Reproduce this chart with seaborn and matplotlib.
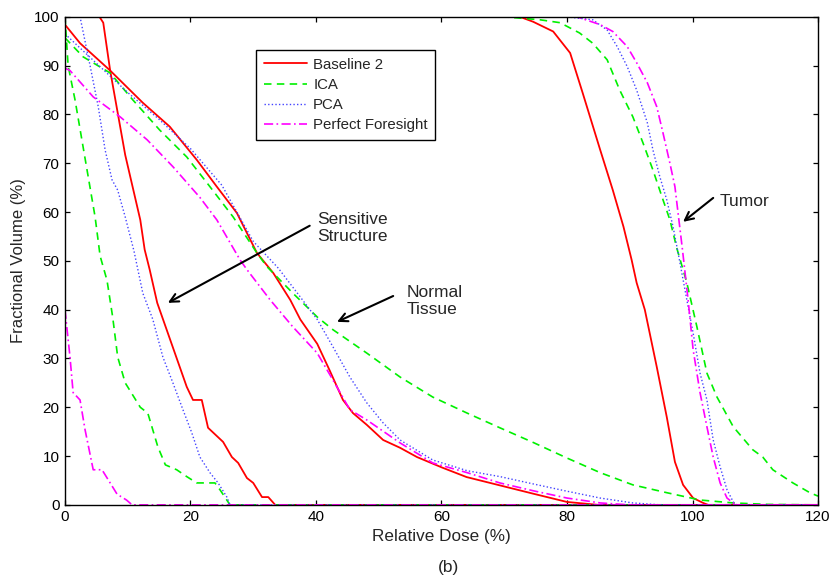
import numpy as np
import pandas as pd
import matplotlib
matplotlib.use("Agg")
import matplotlib.pyplot as plt
from matplotlib.lines import Line2D
import seaborn as sns

# ---- dose-volume histogram data (relative dose %, fractional volume %) ----
methods = ["Baseline 2", "ICA", "PCA", "Perfect Foresight"]

# Sensitive structure
sens_base_dose = [0, 5.5, 6.1, 7.2, 9.6, 12, 12.7, 13.5, 14.7, 19.4, 20.4, 21.8, 22.8, 25.2, 26.6, 27.6, 29, 30, 31.4, 32.4, 33.5, 120]
sens_base_vol = [100, 100, 98.8, 89, 71.7, 58.4, 52.3, 48.2, 41.4, 24.2, 21.5, 21.5, 15.8, 12.9, 9.8, 8.6, 5.5, 4.5, 1.6, 1.6, 0, 0]
sens_ica_dose = [0, 0.5, 1.6, 3.2, 4.8, 5.6, 6.7, 7.6, 8.4, 9.6, 12, 13.2, 14.8, 16, 17.8, 19.4, 21, 23.9, 24.7, 26.3, 120]
sens_ica_vol = [100, 90, 83, 71, 59, 51, 46, 38.5, 30.3, 25, 20, 18.8, 11.9, 8.2, 7.2, 5.8, 4.5, 4.5, 3.1, 0, 0]
sens_pca_dose = [0, 2.4, 3.2, 4, 5.3, 6.4, 7.5, 8.4, 9.6, 11, 12.4, 14, 15.6, 17.2, 18.8, 20.2, 21.5, 23.1, 24.4, 25.8, 26.3, 120]
sens_pca_vol = [100, 100, 95, 90, 81.6, 72.7, 66.6, 64.5, 59, 52, 43.4, 38, 30.3, 25, 19.5, 14.8, 9.8, 6.6, 4.5, 1.6, 0, 0]
sens_pf_dose = [0, 0.8, 1.3, 2.4, 3.2, 4.5, 5.9, 7.2, 8.3, 9.8, 10.7, 120]
sens_pf_vol = [40, 30.3, 23, 21.5, 15.4, 7.2, 7.2, 4.5, 2.2, 1, 0, 0]

# Normal tissue
norm_base_dose = [0, 2.4, 7.2, 12.4, 16.7, 21, 24.2, 27.4, 30.6, 33.2, 35.9, 37.5, 40.2, 42.2, 44.3, 45.9, 48.1, 50.7, 53.4, 56.1, 60.2, 64, 69.3, 74.6, 80, 85, 120]
norm_base_vol = [98.4, 94.6, 89, 82.4, 77.5, 70.7, 65.2, 59.8, 51.6, 47.5, 42, 38, 33, 27.5, 21.5, 18.8, 16.4, 13.3, 11.7, 9.8, 7.6, 5.7, 4, 2.3, 0.6, 0, 0]
norm_ica_dose = [0, 2.9, 7.2, 10.8, 15.1, 19.4, 23.1, 26.8, 30.6, 32.2, 36.3, 40.2, 42.7, 48.1, 53.4, 58.6, 64.1, 69.3, 74.6, 80, 85.3, 90.5, 95.9, 101.2, 106.5, 112, 120]
norm_ica_vol = [95.7, 91.8, 88.5, 83, 76.8, 71.3, 65.2, 59, 51.6, 48.8, 43.4, 38.5, 35.9, 31.1, 26.2, 22.1, 18.8, 15.8, 12.8, 9.6, 6.6, 4.1, 2.5, 1, 0.4, 0.1, 0]
norm_pca_dose = [0, 5, 10, 15, 20, 25, 30, 34, 37.5, 40.2, 42.7, 45.4, 48.1, 50.7, 53.4, 58.6, 64.1, 69.3, 74.6, 80, 85.3, 90.5, 95, 120]
norm_pca_vol = [96.5, 90.5, 84.5, 79, 73, 65.5, 54, 48.5, 42.6, 38, 32.4, 26.2, 20.9, 16.8, 13.3, 9.2, 7, 5.8, 4.3, 2.8, 1.4, 0.4, 0, 0]
norm_pf_dose = [0, 0.8, 4.5, 8.8, 13.1, 17.2, 21.5, 24.2, 27.9, 29, 32.7, 36.3, 40.2, 42.7, 45.4, 48.1, 53.4, 58.6, 64.1, 69.3, 74.6, 80, 85.3, 90, 120]
norm_pf_vol = [89.5, 89, 83.6, 79.5, 74.8, 69.3, 63, 58.4, 50.2, 48.2, 42, 36.5, 31.1, 25.6, 19.5, 17.4, 12.7, 8.6, 6.6, 4.5, 2.9, 1.4, 0.4, 0, 0]

# Tumor
tum_base_dose = [0, 72.5, 74.6, 77.8, 80.5, 82.5, 85.3, 87.3, 89, 90.3, 91.1, 92.4, 94.3, 95.9, 97.2, 98.5, 100.1, 101.7, 102.5, 120]
tum_base_vol = [100, 100, 99, 97, 92.6, 84.4, 72.7, 64.5, 57, 50.2, 45.5, 40, 28.3, 18, 8.8, 4.1, 1.4, 0.4, 0, 0]
tum_ica_dose = [0, 70, 75.7, 78.9, 82, 84.1, 86.4, 88.4, 90.5, 92.1, 93.7, 95.3, 96.4, 97.5, 99.1, 100.7, 102.3, 103.9, 106.5, 109.6, 111.2, 112.8, 116, 118.7, 120]
tum_ica_vol = [100, 100, 99.4, 98.8, 96.7, 94.6, 91.2, 85, 79.5, 74.2, 68.6, 62.5, 58.4, 52.6, 45.5, 36.5, 27, 22.1, 16, 11.3, 9.8, 7.2, 4.5, 2.5, 1.8]
tum_pca_dose = [0, 80, 84.1, 86.4, 88, 89.6, 91.1, 92.8, 93.7, 94.8, 95.9, 96.9, 97.8, 99.1, 100.1, 101.2, 102.3, 103.3, 104.4, 105.5, 106.5, 107, 120]
tum_pca_vol = [100, 100, 99.4, 97.3, 93.9, 89.8, 85, 78.3, 72.7, 67.2, 62.5, 57, 51, 42, 35.2, 27, 21.5, 13.3, 7.8, 3.1, 0.6, 0, 0]
tum_pf_dose = [0, 81.6, 85.3, 87.3, 89.6, 91.1, 92.8, 94.3, 95.3, 96.4, 97.2, 97.7, 98.4, 99.3, 100.1, 101.2, 102.3, 103.3, 104.4, 105.5, 106.5, 107, 120]
tum_pf_vol = [100, 100, 98.4, 97, 93.9, 90.6, 86.5, 81.6, 76.2, 70, 65.2, 59.8, 52.3, 42, 31.8, 23, 16, 9.8, 4.5, 1.4, 0.4, 0, 0]

curves = {
    ("Sensitive", "Baseline 2"): (sens_base_dose, sens_base_vol),
    ("Sensitive", "ICA"): (sens_ica_dose, sens_ica_vol),
    ("Sensitive", "PCA"): (sens_pca_dose, sens_pca_vol),
    ("Sensitive", "Perfect Foresight"): (sens_pf_dose, sens_pf_vol),
    ("Normal", "Baseline 2"): (norm_base_dose, norm_base_vol),
    ("Normal", "ICA"): (norm_ica_dose, norm_ica_vol),
    ("Normal", "PCA"): (norm_pca_dose, norm_pca_vol),
    ("Normal", "Perfect Foresight"): (norm_pf_dose, norm_pf_vol),
    ("Tumor", "Baseline 2"): (tum_base_dose, tum_base_vol),
    ("Tumor", "ICA"): (tum_ica_dose, tum_ica_vol),
    ("Tumor", "PCA"): (tum_pca_dose, tum_pca_vol),
    ("Tumor", "Perfect Foresight"): (tum_pf_dose, tum_pf_vol),
}

rows = []
for (structure, method), (dose, vol) in curves.items():
    for d, v in zip(dose, vol):
        rows.append({"structure": structure, "method": method, "dose": d, "volume": v})
df = pd.DataFrame(rows)

colors = {"Baseline 2": "#ff0000", "ICA": "#00f000", "PCA": "#4444ff", "Perfect Foresight": "#ff00ff"}
dashes = {"Baseline 2": (1, 0), "ICA": (4.5, 3.2), "PCA": (1, 1.6), "Perfect Foresight": (5.5, 2, 1, 2)}
widths = {"Baseline 2": 1.3, "ICA": 1.2, "PCA": 1.0, "Perfect Foresight": 1.2}

sns.set_style("ticks")
plt.rcParams["font.family"] = ["Liberation Sans", "DejaVu Sans"]
plt.rcParams["xtick.direction"] = "in"
plt.rcParams["ytick.direction"] = "in"

fig = plt.figure(figsize=(8.33, 5.81), dpi=100)
ax = fig.add_axes([0.078, 0.131, 0.904, 0.840])

for method in methods:
    for structure in ["Sensitive", "Normal", "Tumor"]:
        sub = df[(df.structure == structure) & (df.method == method)]
        sns.lineplot(data=sub, x="dose", y="volume", ax=ax, sort=False, estimator=None,
                     color=colors[method], lw=widths[method], dashes=False)
        line = ax.lines[-1]
        if method != "Baseline 2":
            line.set_dashes(dashes[method])

ax.set_xlim(0, 120)
ax.set_ylim(0, 100)
ax.set_xticks(np.arange(0, 121, 20))
ax.set_yticks(np.arange(0, 101, 10))
ax.tick_params(which="both", direction="in", top=True, right=True, length=3.6, width=0.9,
               labelsize=11, colors="black", pad=4)
for sp in ax.spines.values():
    sp.set_visible(True)
    sp.set_linewidth(1.0)
    sp.set_color("black")

ax.set_xlabel("Relative Dose (%)", fontsize=12.3, labelpad=3)
ax.set_ylabel("Fractional Volume (%)", fontsize=12, labelpad=6)

handles = []
for method in methods:
    h = Line2D([], [], color=colors[method], lw=widths[method])
    if method != "Baseline 2":
        h.set_dashes(dashes[method])
    handles.append(h)
leg = ax.legend(handles, methods, loc="upper left", bbox_to_anchor=(0.254, 0.932),
                borderaxespad=0, fontsize=10.8, frameon=True, fancybox=False,
                edgecolor="black", framealpha=1, handlelength=2.9, handletextpad=0.4,
                labelspacing=0.42, borderpad=0.5)
leg.get_frame().set_linewidth(1.0)

arrow = dict(arrowstyle="->", color="black", lw=1.5, mutation_scale=15, shrinkA=0, shrinkB=0)
ax.annotate("", xy=(16.4, 41.4), xytext=(39.0, 57.2), arrowprops=arrow)
ax.text(40.2, 56.8, "Sensitive\nStructure", fontsize=12.5, ha="left", va="center", linespacing=1.15)
ax.annotate("", xy=(43.35, 37.5), xytext=(52.3, 42.8), arrowprops=arrow)
ax.text(54.5, 41.7, "Normal\nTissue", fontsize=12.5, ha="left", va="center", linespacing=1.15)
ax.annotate("", xy=(98.5, 58.0), xytext=(103.3, 62.9), arrowprops=arrow)
ax.text(104.4, 62.2, "Tumor", fontsize=12.5, ha="left", va="center")

fig.text(0.538, 0.024, "(b)", fontsize=12.5, ha="center", va="center")

fig.savefig("out.png", dpi=100)
